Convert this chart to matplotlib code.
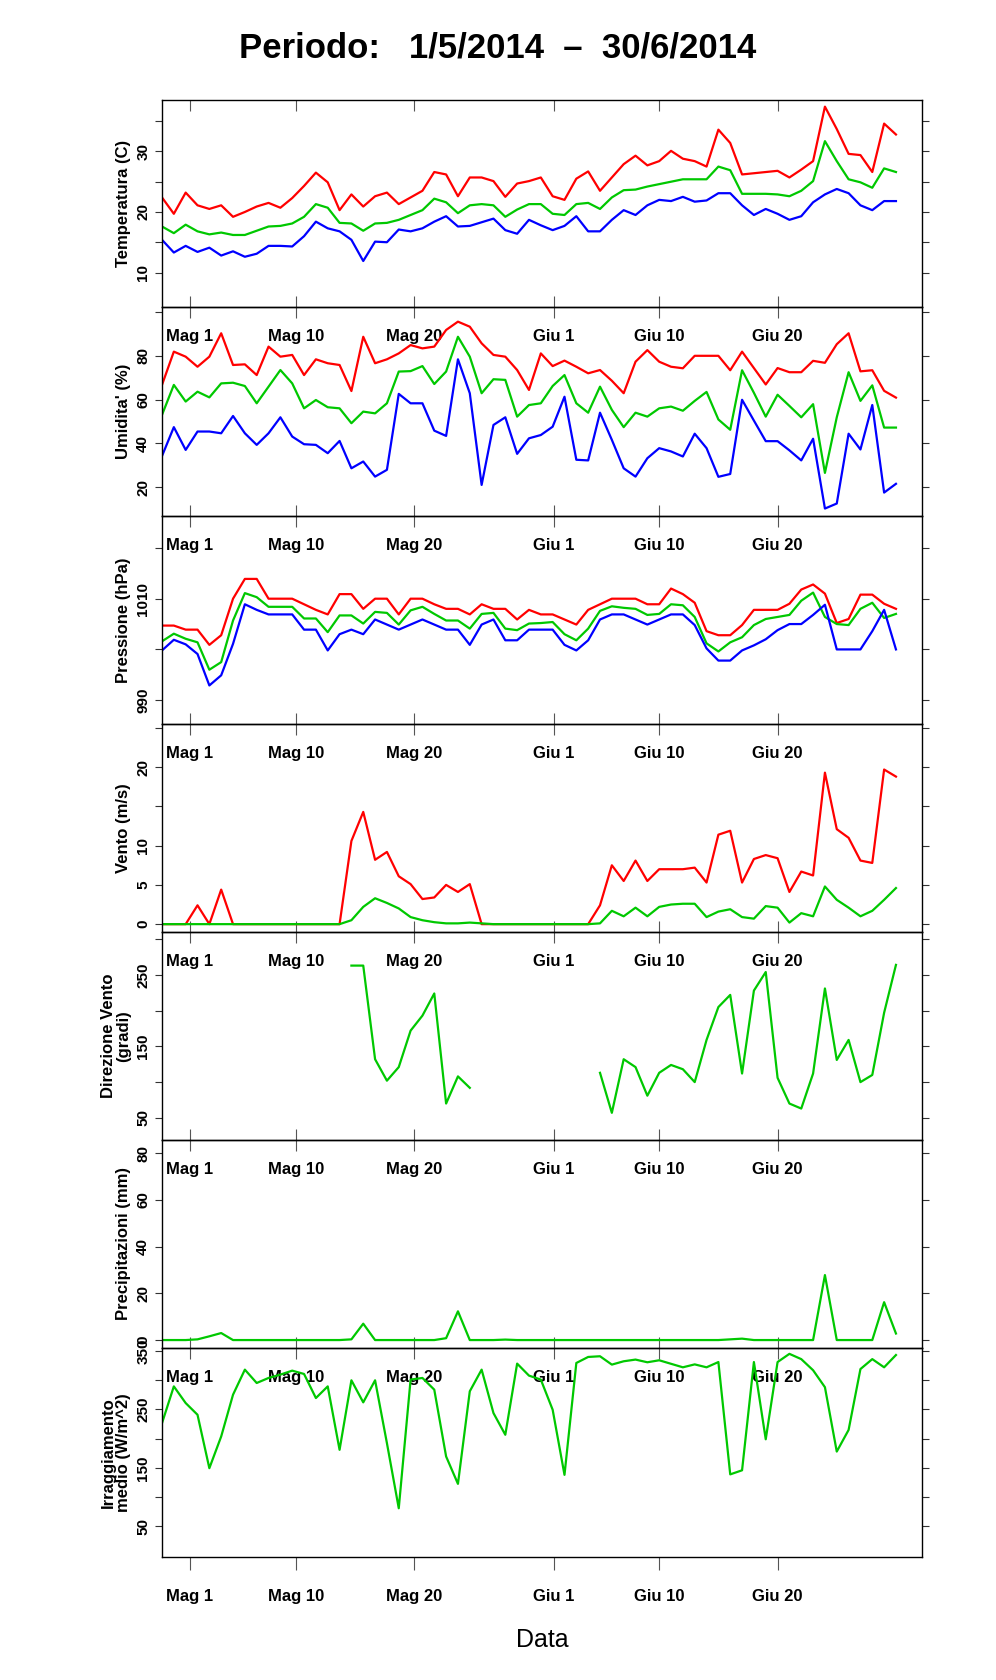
import numpy as np
import matplotlib
matplotlib.use("Agg")
import matplotlib.pyplot as plt

# daily values, 63 points
temp_max = [22.4, 19.7, 23.2, 21.1, 20.5, 21.1, 19.2, 20.0, 20.9, 21.5, 20.7, 22.3, 24.3, 26.5, 24.9,
            20.3, 22.9, 20.9, 22.6, 23.2, 21.3, 22.4, 23.5, 26.6, 26.2, 22.6, 25.7, 25.7, 25.1, 22.5,
            24.7, 25.1, 25.7, 22.6, 22.0, 25.5, 26.7, 23.5, 25.7, 27.9, 29.3, 27.7, 28.4, 30.1, 28.8,
            28.4, 27.5, 33.6, 31.4, 26.2, 26.4, 26.6, 26.8, 25.7, 27.0, 28.4, 37.4, 33.7, 29.6, 29.4,
            26.6, 34.6, 32.8]
temp_mean = [17.6, 16.5, 17.9, 16.8, 16.3, 16.6, 16.2, 16.2, 16.9, 17.6, 17.7, 18.1, 19.2, 21.3, 20.7,
             18.2, 18.1, 16.9, 18.1, 18.2, 18.7, 19.5, 20.3, 22.2, 21.6, 19.8, 21.1, 21.3, 21.1, 19.2,
             20.4, 21.3, 21.3, 19.7, 19.5, 21.3, 21.5, 20.5, 22.4, 23.6, 23.7, 24.2, 24.6, 25.0, 25.4,
             25.4, 25.4, 27.5, 26.9, 23.0, 23.0, 23.0, 22.9, 22.6, 23.5, 25.1, 31.7, 28.4, 25.4, 24.9,
             24.0, 27.2, 26.6]
temp_min = [15.4, 13.3, 14.4, 13.4, 14.1, 12.8, 13.5, 12.6, 13.1, 14.4, 14.4, 14.3, 16.0, 18.4, 17.3,
            16.8, 15.4, 11.9, 15.1, 15.0, 17.1, 16.8, 17.3, 18.4, 19.3, 17.6, 17.7, 18.3, 18.9, 17.0,
            16.4, 18.7, 17.8, 17.0, 17.7, 19.3, 16.8, 16.8, 18.7, 20.3, 19.5, 21.1, 22.0, 21.8, 22.5,
            21.7, 21.9, 23.1, 23.1, 21.1, 19.5, 20.5, 19.7, 18.7, 19.3, 21.6, 22.9, 23.8, 23.1, 21.1,
            20.3, 21.8, 21.8]

hum_max = [66.7, 81.9, 79.6, 75, 79.6, 90.3, 75.8, 76.1, 71.2, 84.2, 79.6, 80.4, 71.2, 78.4, 76.6,
           75.8, 63.9, 88.7, 76.6, 78.4, 81.1, 84.9, 83.4, 84.2, 91.8, 95.6, 93.3, 85.7, 80.4, 79.6,
           73.5, 64.4, 81.1, 75.3, 77.8, 75, 72, 73.5, 68.6, 62.9, 77.3, 82.6, 77.3, 75, 74.3,
           80, 80, 80, 73.4, 81.9, 74.4, 66.9, 74.4, 72.5, 72.5, 77.7, 76.8, 85.3, 90.3, 72.9,
           73.4, 64, 60.9]
hum_mean = [53, 66.7, 59.1, 63.6, 61, 67.4, 67.7, 66.2, 58.3, 65.9, 73.5, 67.4, 56, 59.8, 56.5,
            56, 49.2, 54.5, 53.7, 58.3, 72.8, 73, 75.3, 67.1, 72.8, 88.7, 79.6, 62.9, 69.3, 69,
            52.2, 57.5, 58.3, 66.2, 71.2, 58.3, 54, 65.9, 55.3, 47.4, 54, 52.2, 56, 56.8, 54.9,
            59.4, 63.5, 50.9, 46.2, 73.4, 63.1, 52.2, 62.2, 57.1, 51.9, 57.9, 26.5, 51.9, 72.5, 59.4,
            66.5, 47.2, 47.2]
hum_min = [34.2, 47.4, 37, 45.4, 45.4, 44.6, 52.5, 44.6, 39.3, 44.6, 51.9, 43.1, 39.6, 39.3, 35.5,
           41.1, 28.6, 31.7, 24.8, 27.9, 62.6, 58.3, 58.3, 45.8, 43.4, 78.4, 62.9, 21.0, 48.4, 51.9,
           35.2, 42.3, 43.8, 47.6, 61.3, 32.5, 32.2, 54, 41.6, 28.6, 24.8, 33.2, 37.8, 36.3, 34,
           44.4, 37.8, 24.7, 26, 59.9, 50.4, 41, 41, 36.8, 32.2, 42.1, 10.2, 12.5, 44.4, 37.2,
           57.5, 17.5, 21.5]

pres_max = [1004.7, 1004.7, 1003.9, 1003.9, 1000.9, 1002.8, 1010, 1013.9, 1013.9, 1010, 1010, 1010,
            1008.9, 1007.8, 1006.9, 1010.9, 1010.9, 1008, 1010, 1010, 1006.9, 1010, 1010, 1008.9,
            1008, 1008, 1006.9, 1008.9, 1008, 1008, 1005.9, 1007.8, 1006.9, 1006.9, 1005.9, 1004.9,
            1007.8, 1008.9, 1010, 1010, 1010, 1008.9, 1008.9, 1012, 1010.9,
            1009.2, 1003.6, 1002.8, 1002.8, 1004.8, 1007.8, 1007.8, 1007.8, 1009, 1011.8, 1012.8,
            1011, 1005.2, 1006, 1010.8, 1010.8, 1009, 1008]
pres_mean = [1001.6, 1003.1, 1002.1, 1001.4, 996, 997.5, 1005.7, 1011.1, 1010.3, 1008.4, 1008.4, 1008.4,
             1006.1, 1006.1, 1003.4, 1006.7, 1006.7, 1005.1, 1007.4, 1007.2, 1004.9, 1007.7, 1008.4,
             1007, 1005.7, 1005.7, 1004.1, 1007, 1007.2, 1004.1, 1003.8, 1005.1, 1005.2, 1005.4,
             1003, 1001.8, 1004.1, 1007.6, 1008.5, 1008.2, 1008, 1006.8, 1007, 1008.9, 1008.7,
             1006.4, 1001.2, 999.6, 1001.4, 1002.4, 1004.8, 1006, 1006.4, 1006.8, 1009.6, 1011.2,
             1006.4, 1005, 1004.8, 1008, 1009.2, 1006.2, 1007]
pres_min = [999.8, 1001.9, 1001, 999.1, 992.9, 994.9, 1001.1, 1008.9, 1007.8, 1006.9, 1006.9, 1006.9,
            1003.9, 1003.9, 999.8, 1003, 1003.9, 1003, 1005.9, 1004.9, 1003.9, 1004.9, 1005.9,
            1004.9, 1003.9, 1003.9, 1000.9, 1004.9, 1005.9, 1001.8, 1001.8, 1003.9, 1003.9, 1003.9,
            1000.9, 999.8, 1001.8, 1005.9, 1006.9, 1006.9, 1005.9, 1004.9, 1005.9, 1006.9, 1006.9,
            1004.8, 1000.2, 997.8, 997.8, 999.8, 1000.8, 1002, 1003.8, 1005, 1005, 1006.8,
            1008.8, 1000, 1000, 1000, 1003.6, 1007.8, 1000]

wind_max = [0, 0, 0, 2.4, 0, 4.4, 0, 0, 0, 0, 0, 0, 0, 0, 0,
            0, 10.6, 14.3, 8.2, 9.2, 6.1, 5.1, 3.2, 3.4, 5.0, 4.1, 5.1, 0, 0, 0,
            0, 0, 0, 0, 0, 0, 0, 2.4, 7.5, 5.5, 8.1, 5.5, 7.0, 7.0, 7.0,
            7.2, 5.3, 11.4, 11.9, 5.3, 8.3, 8.8, 8.4, 4.1, 6.7, 6.2, 19.3, 12.1, 11.0, 8.1,
            7.8, 19.7, 18.8]
wind_mean = [0, 0, 0, 0, 0, 0, 0, 0, 0, 0, 0, 0, 0, 0, 0,
             0, 0.5, 2.2, 3.3, 2.7, 2.0, 0.9, 0.5, 0.25, 0.1, 0.1, 0.2, 0.1, 0, 0,
             0, 0, 0, 0, 0, 0, 0, 0.1, 1.7, 1.0, 2.1, 1.0, 2.2, 2.5, 2.6,
             2.6, 0.9, 1.6, 1.9, 0.9, 0.7, 2.3, 2.1, 0.2, 1.4, 1.0, 4.8, 3.1, 2.1, 1.0,
             1.7, 3.1, 4.6]

nan = np.nan
wind_dir = [nan] * 16 + [263, 263, 132, 102, 121, 172, 193, 224, 70, 108, 92] + [nan] * 10 + \
           [113, 57, 132, 121, 81, 113, 124, 118, 100, 159, 205, 222, 112, 228, 254, 106, 70,
            63, 112, 231, 131, 159, 100, 110, 197, 264]

rain = [0, 0, 0, 0.3, 1.6, 3.0, 0, 0, 0, 0, 0, 0, 0, 0, 0,
        0, 0.3, 7.0, 0, 0, 0, 0, 0, 0, 0.8, 12.3, 0, 0, 0, 0.2,
        0, 0, 0, 0, 0, 0, 0, 0, 0, 0, 0, 0, 0, 0, 0,
        0, 0, 0, 0.3, 0.6, 0, 0, 0, 0, 0, 0, 27.8, 0, 0, 0,
        0, 16.2, 2.8]

irr = [226.6, 289.4, 260.9, 240.9, 149.6, 203.8, 275.2, 318, 295.2, 303.8, 309.5, 316.3, 310.6,
       269.5, 289.4, 181, 299.8, 262.1, 299.8, 192.4, 81.1, 301, 303.8, 283.8, 169.6, 122.8, 281,
       318, 243.8, 206.7, 328.3, 307.8, 301, 249.5, 138.2, 329.4, 339.7, 340.9, 326.6, 332.3,
       335.2, 330.6, 334, 328, 322, 327, 322, 331, 139, 146, 331, 199, 331, 345, 336, 317, 288,
       178, 215, 319, 336, 322, 343]

date_ticks = [2.35, 11.3, 21.3, 33.1, 42.0, 52.0]
date_labels = ["Mag 1", "Mag 10", "Mag 20", "Giu 1", "Giu 10", "Giu 20"]

RED, GREEN, BLUE = "#ff0000", "#00c800", "#0000ff"

plt.rcParams.update({
    "font.family": ["Liberation Sans", "DejaVu Sans"],
    "font.weight": "bold",
})

fig = plt.figure(figsize=(9.96, 16.8), dpi=100)
left, right = 162 / 996, 922 / 996
edges = [100, 307, 516, 724, 932, 1140, 1348, 1557]
x = np.arange(len(temp_max))

panels = [
    ("Temperatura (C)", [(temp_max, RED), (temp_mean, GREEN), (temp_min, BLUE)],
     (4.3, 38.5), np.arange(10, 36, 5), [10, 20, 30]),
    ("Umidita' (%)", [(hum_max, RED), (hum_mean, GREEN), (hum_min, BLUE)],
     (6.8, 102.3), np.arange(20, 101, 20), [20, 40, 60, 80]),
    ("Pressione (hPa)", [(pres_max, RED), (pres_mean, GREEN), (pres_min, BLUE)],
     (985.3, 1026.3), np.arange(990, 1021, 10), [990, 1010]),
    ("Vento (m/s)", [(wind_max, RED), (wind_mean, GREEN)],
     (-1.0, 25.5), np.arange(0, 26, 5), [0, 5, 10, 20]),
    ("Direzione Vento\n(gradi)", [(wind_dir, GREEN)],
     (19, 310), np.arange(50, 301, 50), [50, 150, 250]),
    ("Precipitazioni (mm)", [(rain, GREEN)],
     (-3.4, 85.6), np.arange(0, 81, 20), [0, 20, 40, 60, 80]),
    ("Irraggiamento\nmedio (W/m^2)", [(irr, GREEN)],
     (-2.2, 355), np.arange(50, 351, 50), [50, 150, 250, 350]),
]

axes = []
for k, (ylabel, series, ylim, yticks, ylabeled) in enumerate(panels):
    top, bot = edges[k], edges[k + 1]
    ax = fig.add_axes([left, 1 - bot / 1680, right - left, (bot - top) / 1680])
    ax.patch.set_visible(False)
    for vals, col in series:
        ax.plot(x, vals, color=col, linewidth=1.6, zorder=2)
    ax.set_xlim(0, 64.2)
    ax.set_ylim(*ylim)
    ax.set_yticks(yticks)
    ax.set_yticklabels([str(v) if v in ylabeled else "" for v in yticks],
                       rotation=90, va="center", fontsize=11, fontweight="bold")
    ax.tick_params(axis="y", which="both", direction="out", length=5, left=True, right=True,
                   labelleft=True, labelright=False, color="#333333")
    ax.set_xticks(date_ticks)
    ax.set_xticklabels(date_labels, fontsize=12, fontweight="bold")
    last = k == len(panels) - 1
    if last:
        ax.tick_params(axis="x", direction="out", length=9, pad=14, top=False, color="#555555")
    else:
        ax.tick_params(axis="x", direction="inout", length=16, pad=8, top=(k == 0),
                       color="#555555")
    if k == 0:
        ax.tick_params(axis="x", which="major", top=True)
    for sp in ax.spines.values():
        sp.set_linewidth(1.0)
    ax.set_ylabel(ylabel, fontsize=12, fontweight="bold", labelpad=4, linespacing=1.0)
    axes.append(ax)

# top panel: top ticks point inward only
axes[0].xaxis.set_tick_params(which="major", top=True)
for t in axes[0].xaxis.get_major_ticks():
    t.tick2line.set_markersize(8)
    t.tick2line.set_marker(3)

fig.text(0.5, 1 - 48 / 1680, "Periodo:   1/5/2014  \u2013  30/6/2014", ha="center", va="center",
         fontsize=25, fontweight="bold")
fig.text((left + right) / 2, 1 - 1640 / 1680, "Data", ha="center", va="center",
         fontsize=18, fontweight="normal")

fig.savefig("out.png", dpi=100)
